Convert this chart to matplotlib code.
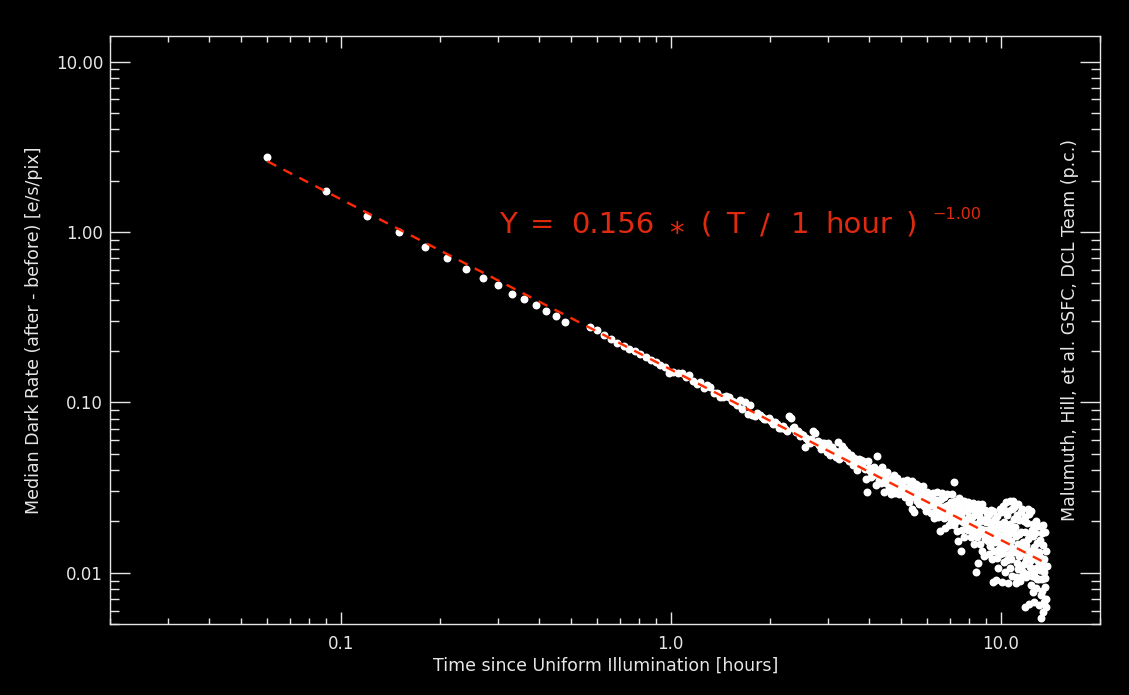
import matplotlib
matplotlib.use("Agg")
import matplotlib.pyplot as plt
from matplotlib.ticker import FixedLocator, FixedFormatter, LogLocator, NullFormatter

plt.rcParams['font.family'] = ['DejaVu Sans']

# ---------------- data ----------------
hours_early = [0.06, 0.09, 0.12, 0.15, 0.18, 0.21, 0.24, 0.27, 0.30, 0.33, 0.36, 0.39, 0.42, 0.45, 0.48]
rate_early = [2.75, 1.73, 1.25, 1.00, 0.82, 0.70, 0.61, 0.54, 0.49, 0.435, 0.405, 0.375, 0.345, 0.323, 0.298]

hours_sub1 = [0.57, 0.60, 0.63, 0.66, 0.69, 0.72, 0.75, 0.78, 0.81, 0.84, 0.87, 0.90, 0.93, 0.96, 0.99]
rate_sub1 = [0.277, 0.265, 0.249, 0.237, 0.224, 0.215, 0.207, 0.200, 0.192, 0.185, 0.178, 0.172, 0.165, 0.161, 0.149]

hours_1 = [1.02, 1.05, 1.08, 1.11, 1.14, 1.17, 1.20, 1.23, 1.26, 1.29, 1.32, 1.35, 1.38, 1.41, 1.44, 1.47, 1.50,
           1.53, 1.56, 1.59, 1.62, 1.65, 1.68, 1.71, 1.74, 1.77, 1.80, 1.83, 1.86, 1.89, 1.92, 1.95, 1.98]
rate_1 = [.151, .149, .148, .140, .144, .133, .129, .131, .122, .126, .123, .114, .113, .108, .108, .109, .108,
          .102, .101, .097, .103, .091, .101, .0853, .0960, .0846, .0832, .0863, .0839, .0825, .0802, .0800, .0809]

hours_2 = [2.01, 2.04, 2.07, 2.10, 2.13, 2.16, 2.19, 2.22, 2.25, 2.28, 2.31, 2.34, 2.37, 2.40, 2.43, 2.46, 2.49,
           2.52, 2.55, 2.58, 2.61, 2.64, 2.67, 2.70, 2.73, 2.76, 2.79, 2.82, 2.85, 2.88, 2.91, 2.94, 2.97]
rate_2 = [.0776, .0744, .0764, .0743, .0712, .0703, .0731, .0694, .0675, .0827, .0808, .0704, .0713, .0668, .0678,
          .0634, .0652, .0644, .0548, .0621, .0598, .0575, .0608, .0680, .0665, .0588, .0590, .0560, .0532, .0580,
          .0581, .0561, .0511]

hours_3 = [3.00, 3.03, 3.06, 3.09, 3.12, 3.15, 3.18, 3.21, 3.24, 3.27, 3.30, 3.33, 3.36, 3.39, 3.42, 3.45, 3.48,
           3.51, 3.54, 3.57, 3.60, 3.63, 3.66, 3.69, 3.72, 3.75, 3.78, 3.81, 3.84, 3.87, 3.90, 3.93, 3.96, 3.99]
rate_3 = [.0579, .0488, .0524, .0547, .0500, .0515, .0477, .0587, .0468, .0517, .0556, .0494, .0531, .0473, .0510,
          .0484, .0455, .0488, .0466, .0431, .0470, .0447, .0403, .0452, .0467, .0427, .0460, .0432, .0452, .0409,
          .0354, .0299, .0451, .0413]

hours_4 = [4.02, 4.05, 4.08, 4.11, 4.14, 4.17, 4.20, 4.23, 4.26, 4.29, 4.32, 4.35, 4.38, 4.41, 4.44, 4.47, 4.50,
           4.53, 4.56, 4.59, 4.62, 4.65, 4.68, 4.71, 4.74, 4.77, 4.80, 4.83, 4.86, 4.89, 4.92, 4.95, 4.98]
rate_4 = [.0398, .0365, .0414, .0375, .0420, .0389, .0328, .0483, .0399, .0349, .0386, .0335, .0419, .0364, .0298,
          .0369, .0337, .0388, .0338, .0313, .0352, .0288, .0361, .0318, .0376, .0293, .0334, .0302, .0358, .0319,
          .0288, .0333, .0309]

hours_5 = [5.01, 5.04, 5.07, 5.10, 5.13, 5.16, 5.19, 5.22, 5.25, 5.28, 5.31, 5.34, 5.37, 5.40, 5.43, 5.46, 5.49,
           5.52, 5.55, 5.58, 5.61, 5.64, 5.67, 5.70, 5.73, 5.76, 5.79, 5.82, 5.85, 5.88, 5.91, 5.94, 5.97]
rate_5 = [.0329, .0298, .0346, .0306, .0280, .0314, .0351, .0291, .0309, .0261, .0322, .0277, .0346, .0236, .0303,
          .0227, .0316, .0279, .0330, .0265, .0286, .0252, .0324, .0289, .0265, .0302, .0269, .0324, .0246, .0290,
          .0271, .0230, .0299]

hours_6 = [6.00, 6.03, 6.06, 6.09, 6.12, 6.15, 6.18, 6.21, 6.24, 6.27, 6.30, 6.33, 6.36, 6.39, 6.42, 6.45, 6.48,
           6.51, 6.54, 6.57, 6.60, 6.63, 6.66, 6.69, 6.72, 6.75, 6.78, 6.81, 6.84, 6.87, 6.90, 6.93, 6.96]
rate_6 = [.0271, .0245, .0289, .0253, .0273, .0225, .0288, .0251, .0294, .0209, .0262, .0227, .0266, .0237, .0298,
          .0249, .0211, .0267, .0239, .0176, .0270, .0220, .0295, .0243, .0210, .0279, .0183, .0248, .0222, .0290,
          .0223, .0251, .0191]

hours_7 = [7.02, 7.05, 7.08, 7.11, 7.14, 7.17, 7.20, 7.23, 7.26, 7.29, 7.32, 7.35, 7.38, 7.41, 7.44, 7.47, 7.50,
           7.53, 7.56, 7.59, 7.62, 7.65, 7.68, 7.71, 7.74, 7.77, 7.80, 7.83, 7.86, 7.89, 7.92, 7.95, 7.98]
rate_7 = [.0234, .0203, .0259, .0213, .0288, .0243, .0339, .0191, .0224, .0262, .0202, .0243, .0176, .0229, .0154,
          .0274, .0205, .0247, .0135, .0217, .0179, .0262, .0198, .0233, .0163, .0263, .0205, .0184, .0239, .0193,
          .0229, .0259, .0178]

hours_8 = [8.01, 8.04, 8.07, 8.10, 8.13, 8.16, 8.19, 8.22, 8.25, 8.28, 8.31, 8.34, 8.37, 8.40, 8.43, 8.46, 8.49,
           8.52, 8.55, 8.58, 8.61, 8.64, 8.67, 8.70, 8.73, 8.76, 8.79, 8.82, 8.85, 8.88, 8.91, 8.94, 8.97]
rate_8 = [.0211, .0184, .0237, .0198, .0163, .0250, .0212, .0173, .0258, .0193, .0148, .0220, .0181, .0239, .0101,
          .0194, .0161, .0254, .0114, .0214, .0176, .0201, .0147, .0232, .0180, .0134, .0253, .0168, .0203, .0179,
          .0125, .0234, .0158]

hours_9 = [9.00, 9.03, 9.06, 9.09, 9.12, 9.15, 9.18, 9.21, 9.24, 9.27, 9.30, 9.33, 9.36, 9.39, 9.42, 9.45, 9.48,
           9.51, 9.54, 9.57, 9.60, 9.63, 9.66, 9.69, 9.72, 9.75, 9.78, 9.81, 9.84, 9.87, 9.90, 9.93, 9.96, 9.99]
rate_9 = [.0198, .0162, .0225, .0167, .0209, .0153, .0179, .0129, .0221, .0168, .0143, .0234, .0186, .0120, .0199,
          .0156, .0231, .00880, .0168, .0134, .0207, .0151, .00906, .0184, .0122, .0215, .0156, .0106, .0168, .0138,
          .0193, .0236, .0128, .0160]

hours_10 = [10.02, 10.05, 10.08, 10.11, 10.14, 10.17, 10.20, 10.23, 10.26, 10.29, 10.32, 10.35, 10.38, 10.41,
            10.44, 10.47, 10.50, 10.53, 10.56, 10.59, 10.62, 10.65, 10.68, 10.71, 10.74, 10.77, 10.80, 10.83,
            10.86, 10.89, 10.92, 10.95, 10.98]
rate_10 = [.0228, .0143, .0182, .00884, .0247, .0130, .0156, .0199, .0116, .0169, .0101, .0259, .0142, .0184,
           .0118, .0217, .0155, .00873, .0231, .0128, .0168, .0106, .0262, .0194, .0120, .0153, .00961, .0238,
           .0140, .0178, .0263, .0133, .0206]

hours_11 = [11.01, 11.04, 11.07, 11.10, 11.13, 11.16, 11.19, 11.22, 11.25, 11.28, 11.31, 11.34, 11.37, 11.40,
            11.43, 11.46, 11.49, 11.52, 11.55, 11.58, 11.61, 11.64, 11.67, 11.70, 11.73, 11.76, 11.79, 11.82,
            11.85, 11.88, 11.91, 11.94, 11.97]
rate_11 = [.0244, .0134, .0185, .00940, .0165, .00872, .0217, .0114, .0147, .0254, .0105, .0168, .0125, .0205,
           .00898, .0146, .0228, .0108, .0174, .0131, .0236, .00962, .0152, .0101, .0200, .0137, .0113, .0173,
           .00628, .0213, .0119, .0146, .00942]

hours_12 = [12.00, 12.03, 12.06, 12.09, 12.12, 12.15, 12.18, 12.21, 12.24, 12.27, 12.30, 12.33, 12.36, 12.39,
            12.42, 12.45, 12.48, 12.51, 12.54, 12.57, 12.60, 12.63, 12.66, 12.69, 12.72, 12.75, 12.78, 12.81,
            12.84, 12.87, 12.90, 12.93, 12.96]
rate_12 = [.0195, .0123, .0237, .00984, .0158, .0125, .0220, .00651, .0166, .0108, .0134, .00847, .0231, .0119,
           .0177, .00954, .0125, .0164, .00773, .0194, .0101, .0141, .00669, .0172, .00938, .0129, .0201, .00813,
           .0107, .0149, .00923, .0189, .0117]

hours_13 = [13.00, 13.03, 13.06, 13.09, 13.12, 13.15, 13.18, 13.21, 13.24, 13.27, 13.30, 13.33, 13.36, 13.39,
            13.42, 13.45, 13.48, 13.51, 13.54, 13.57, 13.60, 13.63, 13.66, 13.69, 13.72, 13.75, 13.78]
rate_13 = [.0188, .00916, .0133, .00648, .0156, .0104, .0123, .00735, .0189, .00539, .00917, .0170, .0111, .00780,
           .0146, .00590, .0191, .0101, .00669, .0121, .00820, .0173, .00932, .00630, .0134, .00704, .0110]

fit_coeff = 0.156
fit_index = -1.00
fit_hours = [0.06, 13.4]

x_major = [0.1, 1.0, 10.0]
x_labels = ["0.1", "1.0", "10.0"]
y_major = [0.01, 0.1, 1.0, 10.0]
y_labels = ["0.01", "0.10", "1.00", "10.00"]

xlabel = "Time since Uniform Illumination [hours]"
ylabel = "Median Dark Rate (after - before) [e/s/pix]"
credit = "Malumuth, Hill, et al. GSFC, DCL Team (p.c.)"

# ---------------- assemble ----------------
segments = [(hours_early, rate_early), (hours_sub1, rate_sub1), (hours_1, rate_1), (hours_2, rate_2),
            (hours_3, rate_3), (hours_4, rate_4), (hours_5, rate_5), (hours_6, rate_6), (hours_7, rate_7),
            (hours_8, rate_8), (hours_9, rate_9), (hours_10, rate_10), (hours_11, rate_11),
            (hours_12, rate_12), (hours_13, rate_13)]
all_h, all_r = [], []
for h, r in segments:
    n = min(len(h), len(r))
    all_h += h[:n]
    all_r += r[:n]

fit_rate = [fit_coeff * (t / 1.0) ** fit_index for t in fit_hours]

# ---------------- figure ----------------
W, H = 1129, 695
fg = '#e6e6e6'
fig = plt.figure(figsize=(W / 100, H / 100), dpi=100, facecolor='black')
ax = fig.add_axes([110 / W, 1 - 624 / H, 990 / W, 588 / H], facecolor='black')
ax.set_xscale('log')
ax.set_yscale('log')
ax.set_xlim(0.02, 20)
ax.set_ylim(0.005, 14.15)

ax.plot(all_h, all_r, linestyle='none', marker='o', ms=5.7, color='white', mec='none', zorder=2)
line, = ax.plot(fit_hours, fit_rate, color='#ff2a00', lw=1.7, zorder=3)
line.set_dashes([4.2, 3.4])

for s in ax.spines.values():
    s.set_color(fg)
    s.set_linewidth(1.0)

ax.xaxis.set_major_locator(FixedLocator(x_major))
ax.xaxis.set_major_formatter(FixedFormatter(x_labels))
ax.xaxis.set_minor_locator(LogLocator(base=10, subs=[2, 3, 4, 5, 6, 7, 8, 9], numticks=30))
ax.xaxis.set_minor_formatter(NullFormatter())
ax.yaxis.set_major_locator(FixedLocator(y_major))
ax.yaxis.set_major_formatter(FixedFormatter(y_labels))
ax.yaxis.set_minor_locator(LogLocator(base=10, subs=[2, 3, 4, 5, 6, 7, 8, 9], numticks=30))
ax.yaxis.set_minor_formatter(NullFormatter())

ax.tick_params(which='both', direction='in', top=True, right=True, color=fg, width=1.0,
               labelcolor=fg, labelsize=12)
ax.tick_params(axis='x', which='major', length=8.6, pad=8)
ax.tick_params(axis='x', which='minor', length=4.3)
ax.tick_params(axis='y', which='major', length=14.4, pad=5)
ax.tick_params(axis='y', which='minor', length=6.7)

def fx(px):
    return px / W

def fy(py):
    return 1 - py / H

fig.text(fx(606), fy(666), xlabel, color=fg, fontsize=12.5, ha='center', va='center')
fig.text(fx(34), fy(330), ylabel, color=fg, fontsize=12.5, ha='center', va='center', rotation=90)
fig.text(fx(1070), fy(330), credit, color=fg, fontsize=12.5, ha='center', va='center', rotation=90)

# fit equation, laid out token by token like the original
eq_color = '#e02a10'
tokens = [("Y", 507.5, 233), ("=", 542.5, 233), ("0.156", 612.5, 233), ("*", 676.7, 242),
          ("(", 705.8, 233), ("T", 735, 233), ("/", 765, 233), ("1", 800, 233),
          ("hour", 859, 233), (")", 911.7, 233)]
for txt, px, py in tokens:
    fig.text(fx(px), fy(py), txt, color=eq_color, fontsize=21, ha='center', va='baseline')
fig.text(fx(956.7), fy(219), "\u22121.00", color=eq_color, fontsize=11.5, ha='center', va='baseline')

fig.savefig("out.png", dpi=100, facecolor='black')
